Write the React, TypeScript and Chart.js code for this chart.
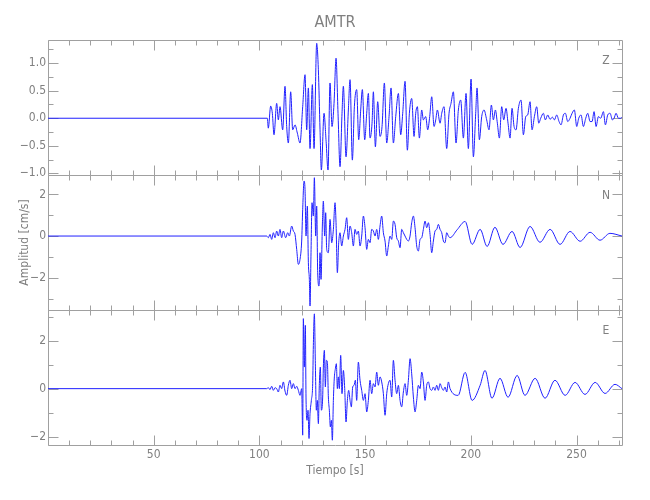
import { useEffect, useRef } from 'react';
import { Chart, registerables } from 'chart.js';

Chart.register(...registerables);

// ---- text ----
const STATION = 'AMTR';
const X_TITLE = 'Tiempo [s]';
const Y_TITLE = 'Amplitud [cm/s]';
const COMPONENT_LABELS = ['Z', 'N', 'E'];

// ---- axis ranges & tick steps ----
const TIME_RANGE = [0, 271.5];
const TIME_STEP = 10;
const TIME_LABEL_EVERY = 50;
const Z_RANGE = [-1.03, 1.42];
const N_RANGE = [-3.55, 2.93];
const E_RANGE = [-2.35, 3.28];
const Z_STEP = 0.25;
const Z_LABEL_EVERY = 0.5;
const NE_STEP = 1;
const NE_LABEL_EVERY = 2;

// ---- traces: [time (s), amplitude (cm/s)] ----
const zTrace: number[][] = [
  [0, 0], [103.75, 0], [104.2, -0.18], [105.33, 0.22], [106.11, 0.09], [106.9, -0.3], [108.17, 0.27], [108.95, -0.03],
  [109.74, 0.21], [111.0, -0.21], [112.11, 0.58], [112.9, -0.15], [113.69, -0.45], [114.79, 0.48], [115.74, -0.21],
  [116.84, -0.12], [117.94, -0.27], [119.2, -0.45], [120.47, 0.21], [121.57, 0.79], [122.36, -0.21], [123.15, 0.55],
  [123.94, -0.55], [125.04, 0.61], [125.83, -0.55], [127.09, 1.36], [127.88, 0.88], [128.67, -0.21], [129.3, -0.94],
  [130.56, 0.09], [131.5, -0.39], [132.45, -0.94], [133.4, 0.64], [134.34, -0.15], [135.29, 0.27], [136.24, 1.09],
  [137.18, 0.09], [138.13, -0.88], [139.07, 0.09], [139.71, 0.58], [140.97, -0.7], [142.07, 0.15], [142.86, 0.7],
  [143.96, -0.76], [144.91, 0.21], [146.01, 0.52], [146.96, -0.39], [147.91, 0.15], [148.69, 0.52], [149.8, -0.39],
  [150.75, 0.09], [151.53, 0.45], [152.32, -0.36], [153.27, -0.09], [153.9, 0.48], [154.85, -0.52], [155.95, 0.3],
  [157.05, -0.33], [158.0, -0.15], [159.1, 0.64], [160.21, -0.45], [161.31, 0.03], [162.26, 0.55], [163.36, -0.45],
  [164.47, 0.03], [165.73, 0.45], [166.83, -0.3], [167.78, 0.09], [168.88, 0.67], [169.98, -0.58], [170.93, 0.09],
  [172.03, 0.36], [173.14, -0.33], [173.93, 0.09], [174.72, 0.21], [175.66, -0.36], [176.77, 0.15], [177.55, -0.03],
  [178.66, 0.03], [179.6, -0.21], [180.55, 0.03], [181.5, 0.39], [182.6, -0.15], [183.39, -0.03], [184.17, 0.15],
  [185.44, -0.09], [186.23, 0.09], [187.32, 0.21], [188.58, -0.55], [189.69, 0.09], [190.63, 0.27], [191.74, 0.48],
  [193.0, -0.45], [194.1, 0.15], [195.21, 0.33], [196.47, -0.36], [197.73, 0.45], [198.83, -0.55], [200.1, 0.71],
  [201.2, -0.7], [202.3, 0.09], [202.93, 0.55], [204.04, -0.39], [205.14, 0.03], [206.25, 0.15], [207.5, -0.03],
  [208.6, -0.21], [209.72, 0.24], [210.66, -0.03], [211.61, 0.15], [212.55, -0.09], [213.5, -0.36], [214.6, 0.21],
  [215.55, -0.03], [216.65, 0.18], [217.6, -0.09], [218.55, -0.36], [219.49, 0.18], [220.44, -0.15], [221.39, -0.21],
  [222.49, 0.18], [223.75, 0.33], [224.86, -0.3], [225.96, 0.03], [226.9, 0.06], [228.0, 0.3], [228.95, -0.21],
  [230.06, 0.03], [231.16, 0.21], [232.11, -0.09], [233.05, 0.0], [234.32, 0.09], [235.26, -0.03], [236.37, 0.06],
  [237.47, -0.02], [238.57, 0.02], [239.52, -0.03], [240.63, 0.06], [241.73, -0.06], [242.67, -0.12], [243.78, 0.06],
  [244.72, 0.09], [245.83, -0.06], [246.93, 0.0], [247.88, 0.09], [248.98, 0.15], [250.09, -0.15], [251.03, 0.0],
  [252.14, 0.06], [253.24, -0.15], [254.35, 0.0], [255.3, 0.09], [256.4, -0.06], [257.34, -0.06], [258.29, 0.12],
  [259.24, -0.15], [260.34, 0.03], [261.44, 0.0], [262.7, 0.12], [263.65, -0.12], [264.75, 0.06], [265.86, 0.09],
  [266.96, -0.03], [267.75, 0.0], [268.69, 0.09], [269.8, 0.0], [270.9, 0.0], [271.5, 0.02],
];

const nTrace: number[][] = [
  [0, 0], [103.44, 0], [104.22, -0.08], [105.01, 0.08], [105.8, -0.16], [106.59, 0.16], [107.38, -0.08], [108.17, 0.24],
  [108.95, 0], [109.74, 0.32], [110.53, -0.08], [111.32, 0.24], [112.42, -0.08], [113.37, 0.16], [114.16, 0],
  [115.26, 0.48], [116.05, 0.24], [116.84, 0.08], [117.63, -0.64], [118.42, -1.36], [119.2, -1.12], [119.99, -0.24],
  [120.47, 1.28], [121.1, 2.64], [121.57, 2.24], [122.04, 0], [122.67, 1.44], [123.15, -1.28], [123.62, -2.08],
  [123.94, -3.36], [124.41, -0.8], [124.88, 1.6], [125.51, 0.96], [125.99, 2.8], [126.62, 0], [127.09, 1.44],
  [127.56, -1.76], [128.19, -2.4], [128.67, -0.8], [129.14, -2.08], [129.77, 0.48], [130.24, 1.68], [130.87, 0],
  [131.35, 1.12], [131.82, -0.64], [132.61, -0.8], [133.4, 0.8], [134.19, -0.32], [134.98, 0.32], [135.76, 1.6],
  [136.24, 0.64], [136.87, -1.76], [137.5, -0.32], [138.13, 0.16], [138.92, -0.48], [139.71, 0], [140.49, 0.32],
  [141.28, 0.88], [142.07, -0.16], [142.86, 0.48], [143.65, 0.16], [144.44, -0.48], [145.23, 0.32], [146.01, 0.08],
  [146.8, 0.24], [147.59, -0.48], [148.38, 0], [149.17, 0.96], [149.96, 0.4], [150.75, -0.64], [151.53, -0.16],
  [152.32, -0.32], [153.11, 0.32], [153.9, 0.24], [154.69, 0], [155.48, 0.32], [156.26, -0.16], [157.05, 0.48],
  [157.84, 0.96], [158.63, 0.16], [159.42, -0.24], [160.21, -0.96], [160.99, -0.48], [161.78, 0], [162.57, -0.16],
  [163.36, 0.72], [164.15, 0.56], [164.94, -0.08], [165.73, -0.24], [166.52, -0.56], [167.3, 0.32], [168.09, 0.16],
  [168.88, 0], [169.67, -0.16], [170.46, -0.24], [171.25, 0], [172.03, 0.64], [172.82, 0.96], [173.61, 0.4],
  [174.4, -0.48], [175.19, -0.72], [175.98, -0.16], [176.77, -0.08], [177.55, 0.32], [178.34, 0.72], [179.13, 0.4],
  [179.92, 0.64], [180.71, 0.08], [181.5, -0.8], [182.28, -0.24], [183.07, 0.24], [183.86, 0.32], [184.65, 0.56],
  [185.44, 0.32], [186.23, 0.16], [187.02, -0.24], [187.8, -0.32], [188.59, 0.16], [189.38, 0], [190.17, -0.08],
  [193.5, 0.3], [197.3, 0.7], [200.6, -0.4], [204.4, 0.32], [207.7, -0.5], [211.4, 0.42], [215.2, -0.4],
  [219.5, 0.22], [223.3, -0.55], [228.0, 0.46], [232.7, -0.3], [237.5, 0.32], [242.2, -0.4], [246.9, 0.22],
  [251.7, -0.25], [256.4, 0.18], [261.1, -0.2], [265.8, 0.13], [271.5, 0],
];

const eTrace: number[][] = [
  [0, 0], [103.44, 0], [104.22, 0.04], [105.01, -0.04], [105.8, 0.1], [106.59, -0.07], [107.38, 0.04], [108.17, 0],
  [108.95, -0.14], [109.74, 0.14], [110.53, 0], [111.32, 0.28], [112.11, -0.1], [112.9, -0.28], [113.69, 0.14],
  [114.47, 0.35], [115.26, 0], [116.05, 0.21], [116.84, 0], [117.63, 0.1], [118.42, -0.07], [119.2, -0.28],
  [119.99, 0], [120.47, -1.94], [120.78, 2.92], [121.25, 0.9], [121.73, 2.64], [122.04, -0.35], [122.52, -1.32],
  [122.99, -0.9], [123.46, -2.08], [123.94, -1.04], [124.57, -0.49], [125.2, 0.21], [125.51, 1.8], [125.99, 3.12],
  [126.46, 1.04], [126.93, -0.9], [127.4, -0.49], [127.88, -1.46], [128.35, 0.21], [128.82, 0.9], [129.3, -0.9],
  [129.93, -0.35], [130.24, 0.9], [130.72, 1.6], [131.19, 0.07], [131.66, 1.18], [132.14, 1.11], [132.61, -0.35],
  [133.08, -0.9], [133.56, -1.6], [134.03, -1.32], [134.5, -2.15], [134.98, -0.49], [135.45, 0.49], [135.92, 0.83],
  [136.39, 1.04], [136.87, 0], [137.34, 0.49], [137.81, 0], [138.44, 1.39], [139.07, -0.21], [139.71, 0.76],
  [140.34, 0], [140.97, -1.39], [141.6, -0.49], [142.23, -0.07], [142.86, -0.49], [143.49, -0.76], [144.12, 0.07],
  [144.75, 0.14], [145.38, 0.35], [146.01, -0.49], [146.8, 1.11], [147.59, 0.35], [148.38, -0.07], [149.17, -0.49],
  [149.96, -0.21], [150.75, -0.97], [151.53, -0.49], [152.32, 0.35], [153.11, -0.21], [153.9, 0.21], [154.69, 0.07],
  [155.48, 0.69], [156.26, 0.14], [157.05, 0.49], [157.84, 0.28], [158.63, -0.21], [159.42, -1.11], [160.21, -0.21],
  [160.99, 0.21], [161.78, 0.35], [162.57, -0.35], [163.36, 1.18], [164.15, 0.35], [164.94, -0.21], [165.73, 0.14],
  [166.52, -0.49], [167.3, -0.76], [168.09, -0.14], [168.88, 0.21], [169.67, -0.28], [170.46, 0.35], [171.25, 1.25],
  [172.03, 0.62], [172.82, -0.35], [173.61, -0.97], [174.4, -0.49], [175.19, 0.14], [175.98, 0], [176.77, 0.69],
  [177.55, 0.28], [178.34, -0.49], [179.13, 0.14], [179.92, 0.28], [180.71, 0], [181.5, -0.07], [182.28, 0.07],
  [183.07, -0.07], [183.86, 0.14], [184.65, -0.07], [185.44, 0.21], [186.23, 0.04], [187.02, -0.07], [187.8, 0.07],
  [188.59, -0.14], [189.38, 0.28], [190.17, 0], [194.0, -0.28], [197.3, 0.68], [200.6, -0.49], [204.4, 0.14],
  [206.7, 0.76], [210.0, -0.4], [213.8, 0.43], [217.6, -0.36], [221.9, 0.55], [225.6, -0.28], [230.4, 0.43],
  [235.1, -0.4], [239.8, 0.35], [244.6, -0.28], [249.3, 0.26], [254.0, -0.24], [258.8, 0.26], [263.5, -0.2],
  [268.2, 0.18], [271.5, 0],
];

const LINE_COLOR = '#a0a0a0';
const TEXT_COLOR = '#808080';
const TRACE_COLOR = '#2020ff';
const FONT_FAMILY = '"Liberation Sans Narrow", "DejaVu Sans Condensed", "Liberation Sans", sans-serif';

const isMultiple = (v: number, m: number) => Math.abs(v / m - Math.round(v / m)) < 1e-6;
const fmt = (s: string) => s.replace('-', '\u2212');

const PANELS = [
  { id: 'yZ', label: COMPONENT_LABELS[0], major: Z_LABEL_EVERY },
  { id: 'yN', label: COMPONENT_LABELS[1], major: NE_LABEL_EVERY },
  { id: 'yE', label: COMPONENT_LABELS[2], major: NE_LABEL_EVERY },
];

const framePlugin = {
  id: 'seisFrame',
  beforeDatasetsDraw(chart: any) {
    const { ctx, chartArea } = chart;
    const xs = chart.scales.x;
    const left = Math.round(chartArea.left) + 0.5;
    const right = Math.round(chartArea.right) + 0.5;
    ctx.save();
    ctx.strokeStyle = LINE_COLOR;
    ctx.lineWidth = 1;
    PANELS.forEach((p) => {
      const ys = chart.scales[p.id];
      const top = Math.round(ys.top) + 0.5;
      const bottom = Math.round(ys.bottom) + 0.5;
      ctx.beginPath();
      ctx.rect(left, top, right - left, bottom - top);
      // y ticks, inward on both sides
      ys.ticks.forEach((t: any) => {
        const y = Math.round(ys.getPixelForValue(t.value)) + 0.5;
        const len = isMultiple(t.value, p.major) ? 10 : 5;
        ctx.moveTo(left, y);
        ctx.lineTo(left + len, y);
        ctx.moveTo(right, y);
        ctx.lineTo(right - len, y);
      });
      // x ticks, inward on top and bottom
      xs.ticks.forEach((t: any) => {
        const x = Math.round(xs.getPixelForValue(t.value)) + 0.5;
        const len = isMultiple(t.value, TIME_LABEL_EVERY) ? 10 : 5;
        ctx.moveTo(x, top);
        ctx.lineTo(x, top + len);
        ctx.moveTo(x, bottom);
        ctx.lineTo(x, bottom - len);
      });
      ctx.stroke();
      ctx.fillStyle = TEXT_COLOR;
      ctx.font = `12px ${FONT_FAMILY}`;
      ctx.textAlign = 'center';
      ctx.textBaseline = 'middle';
      ctx.fillText(p.label, chartArea.right - 16, ys.top + 21);
    });
    ctx.restore();
  },
};

function yScale(range: number[], step: number, labelEvery: number, decimals: number, title?: string) {
  return {
    type: 'linear',
    position: 'left',
    stack: 'seis',
    min: range[0],
    max: range[1],
    grid: { display: false, drawTicks: false, tickLength: 0 },
    border: { display: false },
    ticks: {
      stepSize: step,
      includeBounds: false,
      autoSkip: false,
      padding: 2,
      color: TEXT_COLOR,
      font: { family: FONT_FAMILY, size: 12 },
      callback: (v: number) => (isMultiple(v, labelEvery) ? fmt(v.toFixed(decimals)) : ''),
    },
    title: title
      ? {
          display: true,
          text: title,
          color: TEXT_COLOR,
          font: { family: FONT_FAMILY, size: 12 },
          padding: { top: 18, bottom: 0 },
        }
      : { display: false },
    afterFit: (s: any) => {
      s.width = 48;
    },
  };
}

export default function App() {
  const ref = useRef<HTMLCanvasElement | null>(null);
  useEffect(() => {
    if (!ref.current) return;
    const mk = (trace: number[][], yAxisID: string) => ({
      data: trace.map(([x, y]) => ({ x, y })),
      yAxisID,
      xAxisID: 'x',
      borderColor: TRACE_COLOR,
      borderWidth: 1,
      pointRadius: 0,
      cubicInterpolationMode: 'monotone',
      tension: 0.4,
      fill: false,
    });
    const chart = new Chart(ref.current, {
      type: 'line',
      data: {
        datasets: [mk(zTrace, 'yZ'), mk(nTrace, 'yN'), mk(eTrace, 'yE')],
      },
      options: {
        responsive: false,
        animation: false,
        devicePixelRatio: 1,
        layout: { padding: { left: 0, right: 28, top: 0, bottom: 0 } },
        plugins: {
          legend: { display: false },
          tooltip: { enabled: false },
          title: {
            display: true,
            fullSize: false,
            text: STATION,
            color: TEXT_COLOR,
            font: { family: FONT_FAMILY, size: 16, weight: 'normal' },
            padding: { top: 12.9, bottom: 7.9 },
          },
        },
        scales: {
          x: {
            type: 'linear',
            position: 'bottom',
            min: TIME_RANGE[0],
            max: TIME_RANGE[1],
            grid: { display: false, drawTicks: false, tickLength: 0 },
            border: { display: false },
            ticks: {
              stepSize: TIME_STEP,
              includeBounds: false,
              autoSkip: false,
              maxRotation: 0,
              padding: 3,
              color: TEXT_COLOR,
              font: { family: FONT_FAMILY, size: 12 },
              callback: (v: number) => (v !== 0 && isMultiple(v, TIME_LABEL_EVERY) ? String(v) : ''),
            },
            title: {
              display: true,
              text: X_TITLE,
              color: TEXT_COLOR,
              font: { family: FONT_FAMILY, size: 12 },
              padding: { top: 0, bottom: 22 },
            },
            afterFit: (s: any) => {
              s.height = 55;
            },
          },
          yE: yScale(E_RANGE, NE_STEP, NE_LABEL_EVERY, 0),
          yN: yScale(N_RANGE, NE_STEP, NE_LABEL_EVERY, 0, Y_TITLE),
          yZ: yScale(Z_RANGE, Z_STEP, Z_LABEL_EVERY, 1),
        },
      } as any,
      plugins: [framePlugin],
    });
    return () => chart.destroy();
  }, []);
  return (
    <div style={{ position: 'fixed', left: 0, top: 0, width: 650, height: 500, background: '#fff' }}>
      <canvas ref={ref} width={650} height={500} />
    </div>
  );
}
